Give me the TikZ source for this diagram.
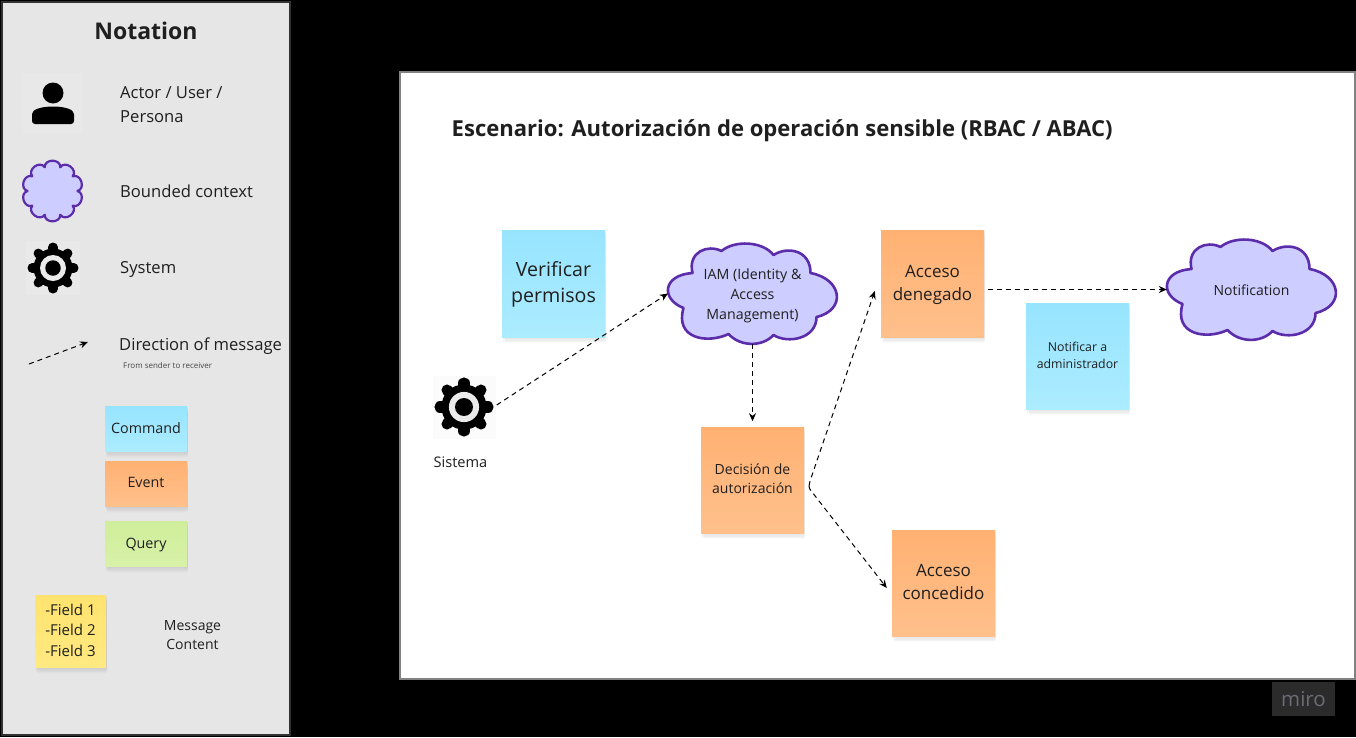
\documentclass[tikz,border=0pt]{standalone}
\usepackage{fontspec}
\setmainfont{Open Sans}
\usetikzlibrary{shadows,arrows.meta}
\definecolor{txt}{HTML}{1F1F1F}
\definecolor{cloudfill}{HTML}{CDCDFF}
\definecolor{cloudline}{HTML}{5C2DAA}
\definecolor{cmdtop}{HTML}{97E4FF}
\definecolor{cmdbot}{HTML}{ACECFF}
\definecolor{evttop}{HTML}{FFB172}
\definecolor{evtbot}{HTML}{FFC08C}
\definecolor{qrytop}{HTML}{CFEE9A}
\definecolor{qrybot}{HTML}{D8F1A8}
\definecolor{fldtop}{HTML}{FFE36E}
\definecolor{fldbot}{HTML}{FFE982}
\definecolor{panelbg}{HTML}{E6E6E6}
\definecolor{panelline}{HTML}{323232}
\definecolor{boardline}{HTML}{828282}
\definecolor{mirobg}{HTML}{2B2B2B}
\definecolor{mirotxt}{HTML}{6C6C76}
\definecolor{iconbgA}{HTML}{E8E8E8}
\definecolor{iconbgB}{HTML}{E9E9E9}
\definecolor{iconbgC}{HTML}{FBFBFB}
\definecolor{smalltxt}{HTML}{464646}
\newcommand{\lift}[2]{\raisebox{#1}[\height][\depth]{#2}}
\tikzset{
  sticky/.style={draw=none,rectangle,inner sep=0pt,align=center,text=txt,
    general shadow={shadow xshift=1.5pt,shadow yshift=-8pt,shadow scale=.97,fill=black,opacity=.012},
    general shadow={shadow xshift=1.5pt,shadow yshift=-6.5pt,shadow scale=.98,fill=black,opacity=.015},
    general shadow={shadow xshift=1pt,shadow yshift=-5pt,fill=black,opacity=.018},
    general shadow={shadow xshift=1pt,shadow yshift=-3.5pt,fill=black,opacity=.022},
    general shadow={shadow xshift=.5pt,shadow yshift=-2pt,fill=black,opacity=.025},
    general shadow={shadow xshift=.5pt,shadow yshift=-1pt,fill=black,opacity=.03}},
  cmd/.style={sticky,top color=cmdtop,bottom color=cmdbot},
  evt/.style={sticky,top color=evttop,bottom color=evtbot},
  qry/.style={sticky,top color=qrytop,bottom color=qrybot},
  fld/.style={sticky,top color=fldtop,bottom color=fldbot},
  lbl/.style={inner sep=0pt,text=txt,align=left,anchor=west},
  clabel/.style={inner sep=0pt,text=txt,align=center},
  msg/.style={draw=black,line width=1pt,dash pattern=on 5pt off 4pt,-{Stealth[length=8pt,width=7pt]}},
  cloudshape/.style={fill=cloudfill,draw=cloudline,line width=2.6pt,line join=round},
}
\newcommand{\bigcloud}[2]{%
  \draw[cloudshape,shift={(#1,#2)}] (-69,14)
    .. controls (-92,5) and (-90,-19) .. (-60,-21)
    .. controls (-65,-42) and (-45,-50) .. (-31,-43)
    .. controls (-18,-54) and (10,-53) .. (21,-39)
    .. controls (35,-48) and (58,-44) .. (58,-21)
    .. controls (90,-15) and (94,16) .. (64,23)
    .. controls (64,45) and (35,50) .. (21,41)
    .. controls (10,53) and (-12,53) .. (-24,40)
    .. controls (-45,50) and (-78,45) .. (-69,14) -- cycle;}
\newcommand{\gearicon}[3]{% x y R
  \begin{scope}[shift={(#1,#2)}]
    \foreach \a in {0,45,...,315}
      \draw[black,line width=.38*#3 pt,line cap=round] (\a:.6*#3) -- (\a:.83*#3);
    \fill[black] (0,0) circle[radius=.78*#3];
    \fill[white!92!black] (0,0) circle[radius=.52*#3];
    \fill[black] (0,0) circle[radius=.31*#3];
  \end{scope}}
\begin{document}
\begin{tikzpicture}[x=1pt,y=-1pt]
\useasboundingbox (0,0) rectangle (1356,737);
\fill[black] (0,0) rectangle (1356,737);
% notation panel
\draw[fill=panelbg,draw=panelline,line width=2.5pt] (2,2) rectangle (290,735);
% board
\draw[fill=white,draw=boardline,line width=1.5pt] (400,72) rectangle (1355,679);
% miro
\fill[mirobg] (1272,682) rectangle (1335,716);
\node[inner sep=0pt,text=mirotxt,font=\fontsize{20.5}{24}\selectfont] (miro) at (1303.5,699) {miro};
% notation texts
\node[inner sep=0pt,text=txt,font=\fontsize{23}{28}\selectfont\bfseries] (ntitle) at (146,31) {Notation};
\node[fill=iconbgA,minimum size=60pt,inner sep=0pt] (actor) at (53,103) {};
\fill[black] (53,93) circle[radius=10.5];
\fill[black,rounded corners=3pt] (32,124) -- (32,117) .. controls (32,104) and (74,104) .. (74,117) -- (74,124) -- cycle;
\node[lbl,font=\fontsize{16.6}{24}\selectfont] (l1) at (120,105) {Actor / User /\\Persona};
\begin{scope}[shift={(52.5,191)}]
\draw[cloudshape,line width=2.2pt] (0:25)
  \foreach \a in {0,36,...,324}{ .. controls (\a+4:33.5) and (\a+32:33.5) .. (\a+36:25) } -- cycle;
\end{scope}
\node[lbl,font=\fontsize{16.6}{24}\selectfont] (l2) at (120,191) {Bounded context};
\node[fill=iconbgB,minimum size=54pt,inner sep=0pt] (gearn) at (53,268) {};
\gearicon{53}{268}{25}
\node[lbl,font=\fontsize{16.6}{24}\selectfont] (l3) at (120,269) {System};
\coordinate (na) at (29,364);
\coordinate (nb) at (88,342);
\draw[msg] (na) -- (nb);
\node[lbl,font=\fontsize{16.6}{24}\selectfont] (l4) at (119,346) {Direction of message};
\node[lbl,font=\fontsize{8}{10}\selectfont,text=smalltxt] (l5) at (123,365) {From sender to receiver};
\node[cmd,minimum width=82pt,minimum height=45pt,font=\fontsize{14.3}{18}\selectfont] (ncmd) at (146,428.5) {Command};
\node[evt,minimum width=82pt,minimum height=45pt,font=\fontsize{14.3}{18}\selectfont] (nevt) at (146,483.5) {\lift{1pt}{Event}};
\node[qry,minimum width=82pt,minimum height=45pt,font=\fontsize{14.3}{18}\selectfont] (nqry) at (146,543.5) {\lift{-2pt}{Query}};
\node[fld,minimum width=71pt,minimum height=72pt,font=\fontsize{15}{20.5}\selectfont] (nfld) at (70.5,631) {\lift{1pt}{-Field 1}\\\lift{1pt}{-Field 2}\\\lift{1pt}{-Field 3}};
\node[clabel,font=\fontsize{14}{19}\selectfont] (nmsg) at (192.5,635) {Message\\Content};
% scenario
\node[inner sep=0pt,anchor=west,text=txt,font=\fontsize{22.05}{26}\selectfont\bfseries] (title) at (451.5,131) {Escenario: Autorización de operación sensible (RBAC / ABAC)};
\node[cmd,minimum width=103pt,minimum height=107pt,font=\fontsize{19.6}{26}\selectfont] (verif) at (553.5,283.5) {\lift{-1pt}{Verificar}\\\lift{-1pt}{permisos}};
\node[evt,minimum width=103pt,minimum height=106pt,font=\fontsize{14}{19}\selectfont] (dec) at (752.5,480) {\lift{1pt}{Decisión de}\\\lift{1pt}{autorización}};
\node[evt,minimum width=103pt,minimum height=107pt,font=\fontsize{17}{23}\selectfont] (den) at (932.5,283.5) {\lift{-1pt}{Acceso}\\\lift{-1pt}{denegado}};
\node[cmd,minimum width=103pt,minimum height=106pt,font=\fontsize{12.3}{17}\selectfont] (noti) at (1077.5,356) {\lift{1pt}{Notificar a}\\\lift{1pt}{administrador}};
\node[evt,minimum width=103pt,minimum height=106pt,font=\fontsize{17}{23}\selectfont] (con) at (943.5,583) {\lift{1pt}{Acceso}\\\lift{1pt}{concedido}};
% clouds
\bigcloud{752.5}{294}
\node[clabel,minimum width=169pt,minimum height=101pt,font=\fontsize{14.2}{20}\selectfont] (iam) at (752.5,293.5) {\lift{-2pt}{IAM (Identity \&}\\\lift{-2pt}{Access}\\\lift{-2pt}{Management)}};
\bigcloud{1251.5}{290}
\node[clabel,minimum width=169pt,minimum height=101pt,font=\fontsize{14}{20}\selectfont] (notif) at (1251.5,289.5) {\lift{-1pt}{Notification}};
% system
\node[fill=iconbgC,minimum size=63pt,inner sep=0pt] (sis) at (464,407) {};
\gearicon{464}{407}{29}
\node[clabel,font=\fontsize{14.6}{18}\selectfont] (sislbl) at (460.5,462) {Sistema};
% connectors
\draw[msg] ([xshift=1pt,yshift=2pt]sis.east) -- (iam.west);
\draw[msg] (iam.south) -- ++(0,77);
\coordinate (bend) at (809,486);
\draw[msg] (bend) .. controls (809,484) and (809,483) .. (810,481) -- ([xshift=-6pt,yshift=-7.5pt]den.west);
\draw[msg] (bend) .. controls (809,488) and (810,490) .. (812,492) -- ([xshift=-5pt,yshift=-5pt]con.west);
\draw[msg] ([xshift=4pt,yshift=-6pt]den.east) -- (notif.west);
\end{tikzpicture}
\end{document}
